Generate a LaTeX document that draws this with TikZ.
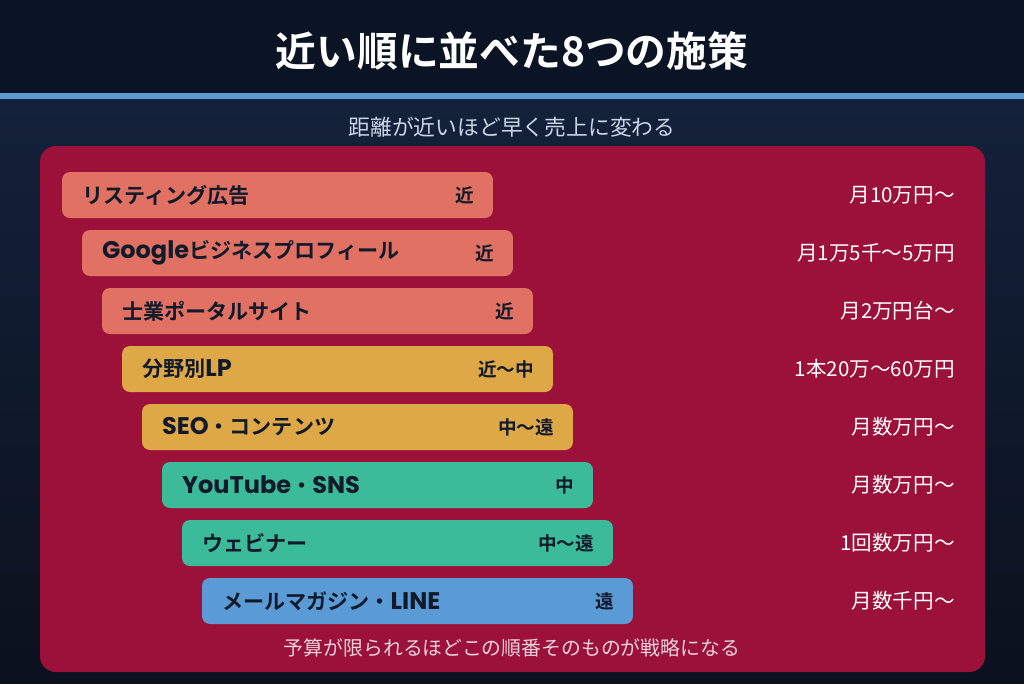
\documentclass[tikz,border=0pt]{standalone}
\usepackage{fontspec}
\setmainfont[BoldFont={* Bold}]{Noto Sans CJK JP}
\newfontfamily\lat[BoldFont={* Bold}, Scale=1.14]{Poppins}
\definecolor{topband}{HTML}{0B1424}
\definecolor{rule}{HTML}{5B9BD5}
\definecolor{bgtop}{HTML}{13213A}
\definecolor{bgbot}{HTML}{0B111D}
\definecolor{panel}{HTML}{9B1139}
\definecolor{salmon}{HTML}{E07163}
\definecolor{amber}{HTML}{DFA846}
\definecolor{teal}{HTML}{3CBB9B}
\definecolor{sky}{HTML}{5A9BD6}
\definecolor{ink}{HTML}{111A2B}
\definecolor{subtxt}{HTML}{C9D6E6}
\definecolor{foottxt}{HTML}{EBD3DC}

\begin{document}
\begin{tikzpicture}[x=0.02cm,y=-0.02cm,
    bar/.style={rounded corners=4.5pt, minimum height=0.92cm,
        text width=7.82cm, inner xsep=0.4cm, align=left, text=ink,
        font=\fontsize{12}{14}\selectfont\bfseries},
    dist/.style={anchor=east, text=ink, inner sep=0pt,
        font=\fontsize{10.6}{13}\selectfont\bfseries},
    price/.style={anchor=east, text=white, inner sep=0pt,
        font=\fontsize{11.7}{13}\selectfont}]
\useasboundingbox (0,0) rectangle (1024,683);
\fill[topband] (0,0) rectangle (1024,93);
\shade[top color=bgtop, bottom color=bgbot] (0,99) rectangle (1024,683);
\fill[rule] (0,93) rectangle (1024,99);
\node[text=white, font=\fontsize{23.2}{28}\selectfont\bfseries] (title) at (512,51) {近い順に並べた8つの施策};
\node[text=subtxt, font=\fontsize{12.4}{15}\selectfont] (sub) at (512,127) {距離が近いほど早く売上に変わる};
\fill[panel, rounded corners=9pt] (40,146) rectangle (985,672);
\foreach \i/\name/\near/\cost/\col in {
    1/リスティング広告/近/月10万円〜/salmon,
    2/{\lat Google}ビジネスプロフィール/近/月1万5千〜5万円/salmon,
    3/士業ポータルサイト/近/月2万円台〜/salmon,
    4/分野別{\lat LP}/近〜中/1本20万〜60万円/amber,
    5/{\lat SEO}・コンテンツ/中〜遠/月数万円〜/amber,
    6/{\lat YouTube}・{\lat SNS}/中/月数万円〜/teal,
    7/ウェビナー/中〜遠/1回数万円〜/teal,
    8/メールマガジン・{\lat LINE}/遠/月数千円〜/sky}{
  \node[bar, fill=\col] (bar\i) at ({277.5+20*(\i-1)},{195+58*(\i-1)}) {\name};
  \node[dist] (dist\i) at ([xshift=-0.38cm]bar\i.east) {\near};
  \node[price] (price\i) at (955,{195+58*(\i-1)}) {\cost};
}
\node[text=foottxt, font=\fontsize{11.3}{14}\selectfont] (foot) at (512,648) {予算が限られるほどこの順番そのものが戦略になる};
\end{tikzpicture}
\end{document}
